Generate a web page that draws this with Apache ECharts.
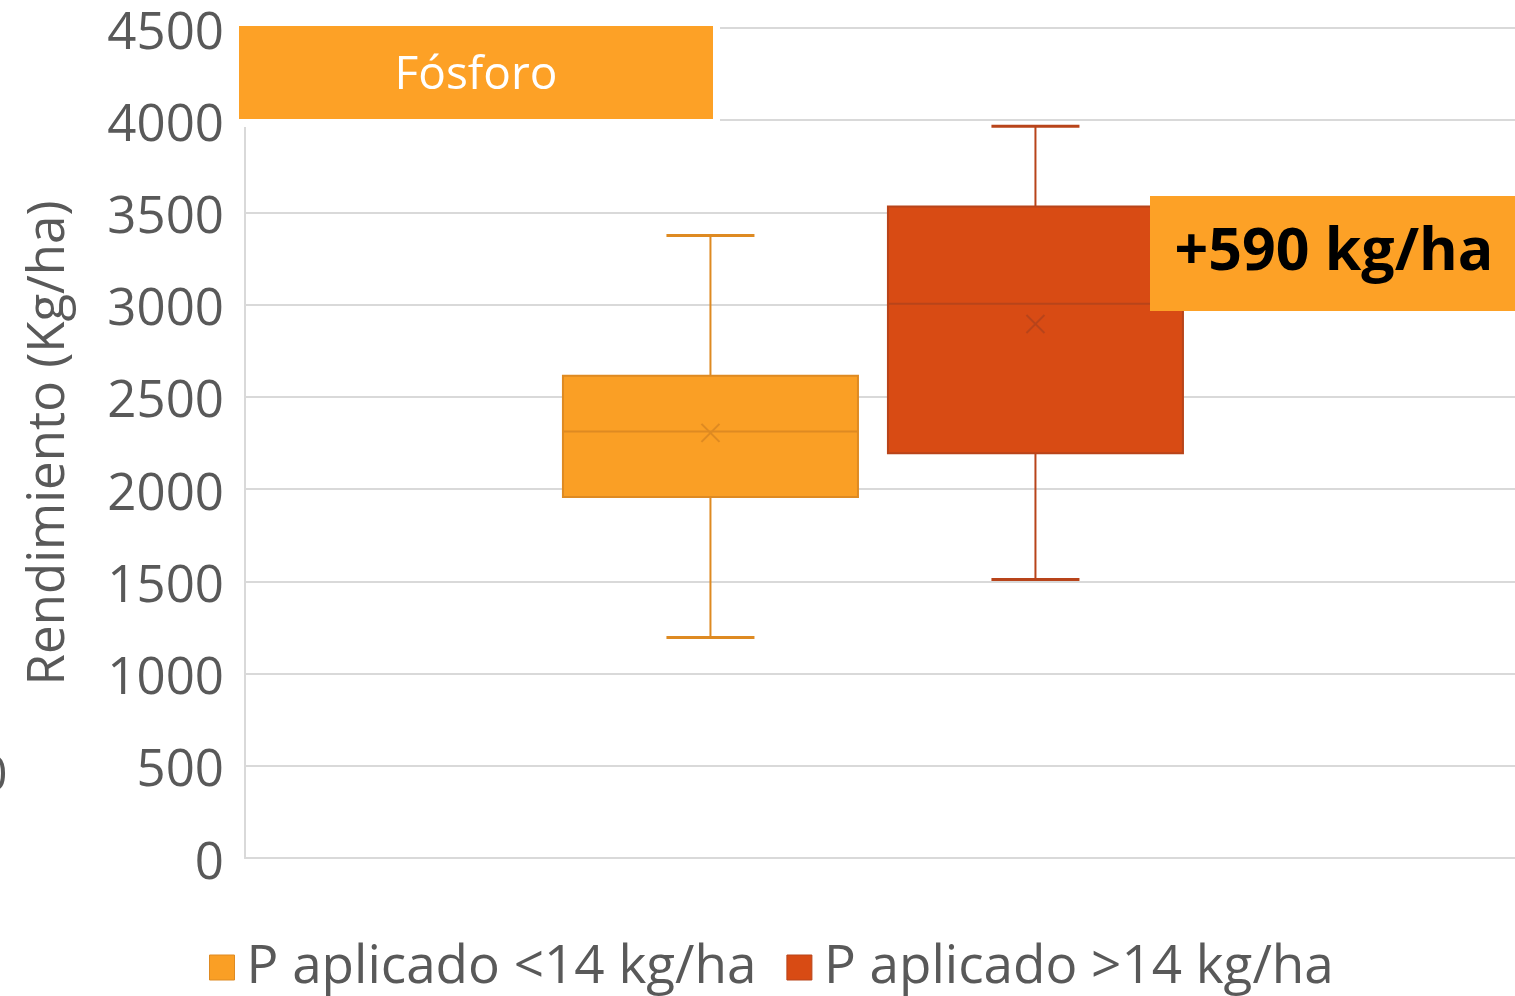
<!DOCTYPE html>
<html>
<head>
<meta charset="utf-8">
<script src="https://cdn.jsdelivr.net/npm/echarts@6/dist/echarts.min.js"></script>
<style>
html,body{margin:0;padding:0;background:#fff;}
#chart{width:1515px;height:996px;}
</style>
</head>
<body>
<div id="chart"></div>
<script>
// ---- data ----
const seriesNames = ['P aplicado <14 kg/ha', 'P aplicado >14 kg/ha'];
const minVals    = [1195, 1510];
const q1Vals     = [1957, 2195];
const medianVals = [2312, 3005];
const q3Vals     = [2615, 3532];
const maxVals    = [3375, 3967];
const meanVals   = [2305, 2895];
const yTicks     = [0, 500, 1000, 1500, 2000, 2500, 3000, 3500, 4000, 4500];
const titleText  = 'Fósforo';
const noteText   = '+590 kg/ha';
const yAxisName  = 'Rendimiento (Kg/ha)';

// ---- styles ----
const fills   = ['#FA9F25', '#D84B14'];
const borders = ['#DE8A22', '#B8441A'];
const offsets = [-0.1335, 0.1224];   // fraction of category band
const boxW = 0.2323, capW = 0.0693;
const FONT = '"Open Sans", "Noto Sans", sans-serif';
const GRAY = '#595959';

const chart = echarts.init(document.getElementById('chart'));

function makeSeries(i) {
  return {
    name: seriesNames[i],
    type: 'custom',
    itemStyle: { color: fills[i], borderColor: borders[i], borderWidth: 2 },
    data: [[0, minVals[i], q1Vals[i], medianVals[i], q3Vals[i], maxVals[i], meanVals[i]]],
    encode: { x: 0, y: [1, 2, 3, 4, 5, 6] },
    renderItem: function (params, api) {
      const band = api.size([1, 0])[0];
      const cx = api.coord([api.value(0), 0])[0] + offsets[i] * band;
      const y = v => api.coord([api.value(0), v])[1];
      const yMin = y(api.value(1)), yQ1 = y(api.value(2)), yMed = y(api.value(3)),
            yQ3 = y(api.value(4)), yMax = y(api.value(5)), yMean = y(api.value(6));
      const hw = boxW * band / 2, hc = capW * band / 2, m = 9;
      const ls = { stroke: borders[i], lineWidth: 2, fill: null };
      return {
        type: 'group',
        children: [
          { type: 'line', shape: { x1: cx, y1: yMax, x2: cx, y2: yQ3 }, style: ls },
          { type: 'line', shape: { x1: cx, y1: yQ1, x2: cx, y2: yMin }, style: ls },
          { type: 'line', shape: { x1: cx - hc, y1: yMax, x2: cx + hc, y2: yMax }, style: { stroke: borders[i], lineWidth: 3 } },
          { type: 'line', shape: { x1: cx - hc, y1: yMin, x2: cx + hc, y2: yMin }, style: { stroke: borders[i], lineWidth: 3 } },
          { type: 'rect', shape: { x: cx - hw, y: yQ3, width: 2 * hw, height: yQ1 - yQ3 },
            style: { fill: fills[i], stroke: borders[i], lineWidth: 2 } },
          { type: 'line', shape: { x1: cx - hw, y1: yMed, x2: cx + hw, y2: yMed }, style: ls },
          { type: 'line', shape: { x1: cx - m, y1: yMean - m, x2: cx + m, y2: yMean + m }, style: ls },
          { type: 'line', shape: { x1: cx - m, y1: yMean + m, x2: cx + m, y2: yMean - m }, style: ls }
        ]
      };
    }
  };
}

const option = {
  animation: false,
  backgroundColor: '#fff',
  textStyle: { fontFamily: FONT },
  grid: { left: 245, right: 0, top: 28, bottom: 138, containLabel: false },
  legend: {
    data: seriesNames.map((n, i) => ({ name: n, icon: 'rect', itemStyle: { color: fills[i], borderColor: borders[i], borderWidth: 1 } })),
    left: 209, top: 941, padding: 0,
    itemWidth: 25, itemHeight: 25, itemGap: 30,
    textStyle: { fontSize: 53, color: GRAY, fontFamily: FONT, padding: [0, 0, 0, 7] }
  },
  xAxis: {
    type: 'category',
    data: [''],
    axisLine: { show: true, lineStyle: { color: '#D9D9D9', width: 2 } },
    axisTick: { show: false },
    axisLabel: { show: false },
    splitLine: { show: false }
  },
  yAxis: {
    type: 'value',
    min: yTicks[0], max: yTicks[yTicks.length - 1], interval: yTicks[1] - yTicks[0],
    name: yAxisName,
    nameLocation: 'middle',
    nameRotate: 90,
    nameGap: 170,
    nameTextStyle: { fontSize: 51, color: GRAY, fontFamily: FONT },
    axisLine: { show: true, lineStyle: { color: '#D9D9D9', width: 2 } },
    axisTick: { show: false },
    axisLabel: { fontSize: 51, color: GRAY, margin: 21, fontFamily: FONT,
                 verticalAlign: 'top', lineHeight: 12,
                 formatter: v => String(v) },
    splitLine: { lineStyle: { color: '#D9D9D9', width: 2 } }
  },
  series: [makeSeries(0), makeSeries(1)],
  graphic: [
    { type: 'rect', z: 100, shape: { x: 232, y: 19, width: 488, height: 108 }, style: { fill: '#fff' } },
    { type: 'rect', z: 101, shape: { x: 239, y: 26, width: 474, height: 93 }, style: { fill: '#FDA126' } },
    { type: 'text', z: 102, x: 476, y: 76, style: { text: titleText, fill: '#fff', font: '46px ' + FONT, align: 'center', verticalAlign: 'middle' } },
    { type: 'rect', z: 101, shape: { x: 1150, y: 196, width: 370, height: 115 }, style: { fill: '#FDA126' } },
    { type: 'text', z: 102, x: 1334, y: 253, style: { text: noteText, fill: '#000', font: 'bold 59px ' + FONT, align: 'center', verticalAlign: 'middle' } },
    { type: 'text', z: 102, x: -21, y: 777, style: { text: '0', fill: GRAY, font: '50px ' + FONT, align: 'left', verticalAlign: 'middle' } }
  ]
};
chart.setOption(option);
</script>
</body>
</html>
